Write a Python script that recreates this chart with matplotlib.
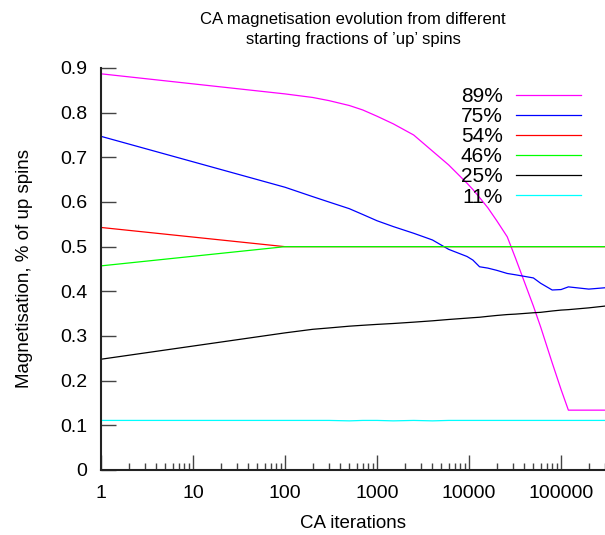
import matplotlib
matplotlib.use("Agg")
import matplotlib.pyplot as plt
from matplotlib.ticker import FixedLocator, FixedFormatter, LogLocator, NullFormatter

plt.rcParams['font.family'] = ['Liberation Sans', 'DejaVu Sans']

iters = [1, 100, 200, 300, 500, 700, 1000, 1500, 2500, 4000, 6000, 9500, 11000, 13000, 16000,
         20000, 26000, 32000, 50000, 60000, 80000, 100000, 120000, 200000, 300000]

up89 = [0.887, 0.842, 0.834, 0.827, 0.816, 0.806, 0.792, 0.775, 0.750, 0.714, 0.683, 0.642,
        0.628, 0.610, 0.587, 0.558, 0.522, 0.474, 0.367, 0.320, 0.240, 0.180, 0.134, 0.134,
        0.134]
up75 = [0.747, 0.633, 0.612, 0.600, 0.585, 0.572, 0.558, 0.545, 0.530, 0.515, 0.494, 0.478,
        0.470, 0.455, 0.452, 0.447, 0.440, 0.437, 0.430, 0.418, 0.403, 0.404, 0.410, 0.405,
        0.408]
up54 = [0.543] + [0.500] * 24
up46 = [0.457] + [0.500] * 24
up25 = [0.248, 0.307, 0.315, 0.318, 0.322, 0.324, 0.326, 0.328, 0.331, 0.334, 0.337, 0.340,
        0.341, 0.342, 0.344, 0.346, 0.348, 0.349, 0.352, 0.353, 0.356, 0.358, 0.359, 0.363,
        0.367]
up11 = [0.111, 0.111, 0.111, 0.111, 0.110, 0.111, 0.111, 0.110, 0.111, 0.110, 0.111, 0.111,
        0.111, 0.111, 0.111, 0.111, 0.111, 0.111, 0.111, 0.111, 0.111, 0.111, 0.111, 0.111,
        0.111]

series = [("89%", up89, "#ff00ff"), ("75%", up75, "#0000ff"), ("54%", up54, "#ff0000"),
          ("46%", up46, "#00ff00"), ("25%", up25, "#000000"), ("11%", up11, "#00ffff")]

x_ticks = [1, 10, 100, 1000, 10000, 100000]
y_ticks = [0, 0.1, 0.2, 0.3, 0.4, 0.5, 0.6, 0.7, 0.8, 0.9]

fig = plt.figure(figsize=(6.05, 5.35), dpi=100)
ax = fig.add_axes([101 / 605, 1 - 470 / 535, 1 - 101 / 605, (470 - 68) / 535])

for label, vals, col in series:
    ax.plot(iters, vals, color=col, lw=0.9, label=label)

ax.set_xscale("log")
ax.set_xlim(1, 300000)
ax.set_ylim(0, 0.9)

ax.xaxis.set_major_locator(FixedLocator(x_ticks))
ax.xaxis.set_major_formatter(FixedFormatter([str(t) for t in x_ticks]))
ax.xaxis.set_minor_locator(LogLocator(base=10, subs=range(2, 10), numticks=20))
ax.xaxis.set_minor_formatter(NullFormatter())
ax.yaxis.set_major_locator(FixedLocator(y_ticks))
ax.yaxis.set_major_formatter(FixedFormatter(["0"] + ["%.1f" % t for t in y_ticks[1:]]))

ax.tick_params(which="major", direction="in", length=11, width=1, color="#444444",
               labelsize=14)
ax.tick_params(axis="x", which="major", pad=11)
ax.tick_params(axis="y", which="major", pad=10)
ax.tick_params(which="minor", direction="in", length=5, width=1, color="#444444")

for s in ("top", "right"):
    ax.spines[s].set_visible(False)
for s in ("left", "bottom"):
    ax.spines[s].set_linewidth(1.5)
    ax.spines[s].set_color("#222222")

ax.set_xlabel("CA iterations", fontsize=13.5, labelpad=9)
ax.set_ylabel("Magnetisation, % of up spins", fontsize=13.5, labelpad=19)
ax.set_title("CA magnetisation evolution from different\nstarting fractions of \u2019up\u2019 spins",
             fontsize=12, pad=17, linespacing=1.45)

ax.legend(loc="upper right", bbox_to_anchor=(0.952, 0.952), frameon=False, markerfirst=False,
          fontsize=15, handlelength=3.1, handletextpad=0.65, labelspacing=0.05,
          borderaxespad=0, borderpad=0)

fig.savefig("out.png", dpi=100)
